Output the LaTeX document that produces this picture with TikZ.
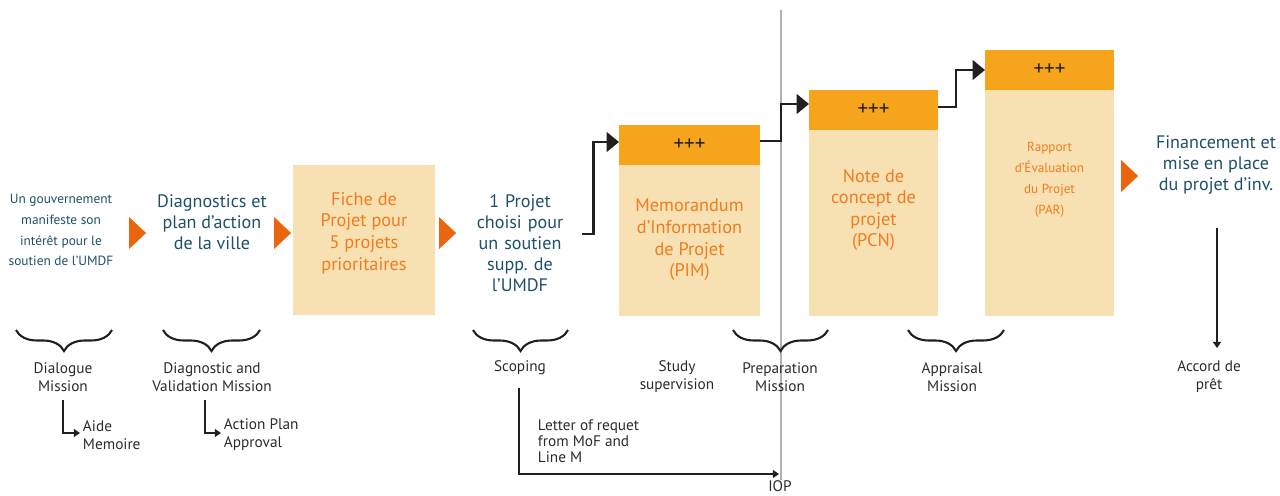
\documentclass[tikz,border=0pt]{standalone}
\usepackage{fontspec}
\setsansfont{PT Sans}
\usetikzlibrary{arrows.meta, positioning, shapes.geometric, calc, decorations.pathreplacing}
\definecolor{slate}{HTML}{1E5068}
\definecolor{rust}{HTML}{EF7D1F}
\definecolor{wheat}{HTML}{F7E0B2}
\definecolor{amber}{HTML}{F7A41D}
\definecolor{flame}{HTML}{EA650D}
\definecolor{ink}{HTML}{231F20}
\definecolor{graytext}{HTML}{2B2B2B}
\definecolor{rule}{HTML}{B0B0B0}
\tikzset{
  stage/.style={font=\sffamily\fontsize{10.3}{11.9}\selectfont, text=slate, align=center, inner sep=0pt},
  smallstage/.style={stage, font=\sffamily\fontsize{7.6}{11.9}\selectfont},
  box/.style={rectangle, fill=wheat, inner sep=0pt, outer sep=0pt},
  headbox/.style={rectangle, fill=amber, inner sep=0pt, outer sep=0pt, minimum height=0.8cm,
    font=\sffamily\fontsize{12}{12}\selectfont, text=ink},
  boxtext/.style={font=\sffamily\fontsize{10.4}{12.3}\selectfont, text=rust, align=center, inner sep=0pt},
  smallboxtext/.style={boxtext, font=\sffamily\fontsize{7.5}{11.9}\selectfont},
  tri/.style={isosceles triangle, isosceles triangle stretches, shape border rotate=0,
    fill=flame, inner sep=0pt, minimum height=0.34cm, minimum width=0.64cm},
  mission/.style={font=\sffamily\fontsize{8.7}{10.2}\selectfont, text=graytext, align=center, inner sep=1.5pt},
  note/.style={mission, align=left},
  missionbrace/.style={decorate, decoration={brace, mirror, amplitude=0.42cm}, line width=1.2pt, draw=ink},
  bigarrow/.style={-{Triangle[length=7pt,width=11pt]}, line width=1.6pt, draw=ink},
  smallarrow/.style={-{Triangle[length=3.5pt,width=4.5pt]}, line width=0.9pt, draw=ink},
  divider/.style={line width=0.6pt, draw=rule},
}

\begin{document}
\begin{tikzpicture}[x=0.02cm, y=-0.02cm]
  \useasboundingbox (0,0) rectangle (1280,496);

  % stages along the top
  \node[smallstage] (gov) at (61,230)
    {Un gouvernement\\manifeste son\\intérêt pour le\\soutien de l’UMDF};
  \node[tri] (t1) at (136,233) {};
  \node[stage] (diag) at (212,222) {Diagnostics et\\plan d’action\\de la ville};
  \node[tri] (t2) at (281,233) {};
  \node[box, minimum width=2.84cm, minimum height=3cm] (fiche) at (364,240) {};
  \node[boxtext] (fichetxt) at (364,233) {Fiche de\\Projet pour\\5 projets\\prioritaires};
  \node[tri] (t3) at (446,233) {};
  \node[stage, text width=1.8cm] (choix) at (520,243)
    {1 Projet\\choisi pour\\un soutien\\supp.\ de\\l’UMDF};

  \node[headbox, minimum width=2.82cm] (pimhead) at (689.5,145) {+++};
  \node[box, minimum width=2.82cm, minimum height=3.02cm, below=0 of pimhead] (pim) {};
  \node[boxtext] (pimtxt) at (689.5,240) {Memorandum\\d’Information\\de Projet\\(PIM)};

  \node[headbox, minimum width=2.58cm] (pcnhead) at (873.5,110) {+++};
  \node[box, minimum width=2.58cm, minimum height=3.72cm, below=0 of pcnhead] (pcn) {};
  \node[boxtext] (pcntxt) at (873.5,210) {Note de\\concept de\\projet\\(PCN)};

  \node[headbox, minimum width=2.58cm] (parhead) at (1049.5,70) {+++};
  \node[box, minimum width=2.58cm, minimum height=4.52cm, below=0 of parhead] (par) {};
  \node[smallboxtext] (partxt) at (1049.5,180) {Rapport\\d’Évaluation\\du Projet\\(PAR)};

  \node[tri] (t4) at (1128,176) {};
  \node[stage] (fin) at (1216,165) {Financement et\\mise en place\\du projet d’inv.};

  % milestone line
  \coordinate (iop) at (779,474);
  \draw[divider] (781,10) -- (781,480);

  \draw[bigarrow] ($(choix.east)+(17,-9)$) -- ++(11,0) |- ($(pimhead.west)+(0,-3)$);
  \draw[bigarrow] ($(pimhead.east)+(0,-4)$) -- ++(21,0) |- ($(pcnhead.west)+(0,-6)$);
  \draw[bigarrow] ($(pcnhead.east)+(0,-3)$) -- ++(18,0) |- (parhead.west);

  % missions along the bottom
  \draw[missionbrace] (16,330) -- (112,330);
  \draw[missionbrace] (163,330) -- (260,330);
  \draw[missionbrace] (473,330) -- (568,330);
  \draw[missionbrace] (733,330) -- (828,330);
  \draw[missionbrace] (908,330) -- (1004,330);

  \node[mission] (dlg) at (63,377) {Dialogue\\Mission};
  \node[mission] (dvm) at (212,377) {Diagnostic and\\Validation Mission};
  \node[mission] (scop) at (520,368) {Scoping};
  \node[mission] (study) at (677,377) {Study\\supervision};
  \node[mission] (prep) at (780,377) {Preparation\\Mission};
  \node[mission] (appr) at (952,377) {Appraisal\\Mission};
  \node[mission] (accord) at (1209,377) {Accord de\\prêt};

  \node[note, anchor=west] (aide) at (80,435) {Aide\\Memoire};
  \node[note, anchor=west] (plan) at (221,435) {Action Plan\\Approval};
  \node[note, anchor=west, font=\sffamily\fontsize{8.7}{9}\selectfont] (letter) at (535,441)
    {Letter of requet\\from MoF and\\Line M};
  \node[mission, inner sep=0pt] (ioplbl) at (780,486) {IOP};

  \draw[smallarrow] ($(dlg.south)+(0,6)$) |- ($(aide.west)+(0,-2)$);
  \draw[smallarrow] ($(dvm.south)+(-7,6)$) |- ($(plan.west)+(0,-2)$);
  \draw[smallarrow] ($(scop.south)+(-1,10)$) |- (iop);
  \draw[smallarrow] ($(fin.south)+(1,33)$) -- ($(fin.south |- accord.north)+(1,-10)$);
\end{tikzpicture}
\end{document}
